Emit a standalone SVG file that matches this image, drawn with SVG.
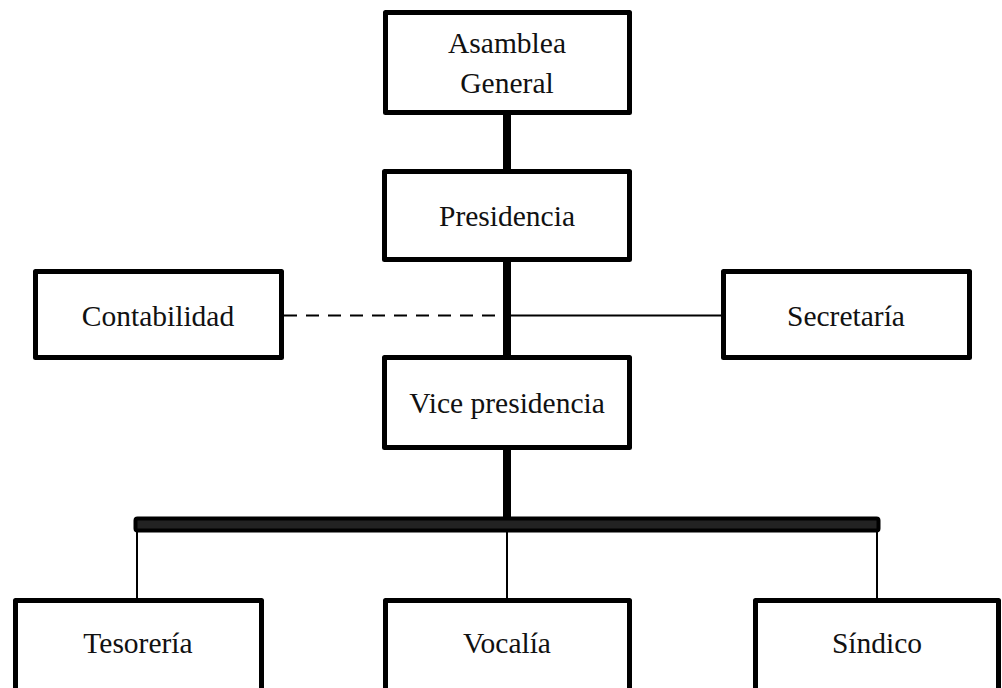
<svg xmlns="http://www.w3.org/2000/svg" width="1002" height="688" viewBox="0 0 1002 688">
  <style>
    .box { fill: #ffffff; stroke: #000000; stroke-width: 5; stroke-linejoin: round; }
    .lbl { font-family: "Liberation Serif", "Times New Roman", serif; font-size: 29.5px; fill: #111111; text-anchor: middle; }
    .trunk { stroke: #000000; stroke-width: 8; fill: none; }
    .thin { stroke: #000000; stroke-width: 2; fill: none; }
    .dash { stroke: #000000; stroke-width: 2; fill: none; stroke-dasharray: 13 9; }
  </style>
  <rect width="1002" height="688" fill="#ffffff"/>

  <!-- connectors -->
  <g id="connectors">
    <line class="trunk" x1="507" y1="113" x2="507" y2="172"/>
    <line class="trunk" x1="507" y1="259" x2="507" y2="358"/>
    <line class="trunk" x1="507" y1="447" x2="507" y2="520"/>
    <line class="dash" x1="284" y1="315.5" x2="503" y2="315.5"/>
    <line class="thin" x1="511" y1="315.5" x2="721" y2="315.5"/>
    <rect x="135.5" y="518.5" width="743" height="12" rx="2" fill="#222222" stroke="#000000" stroke-width="4"/>
    <line class="thin" x1="137" y1="531" x2="137" y2="598"/>
    <line class="thin" x1="507" y1="531" x2="507" y2="598"/>
    <line class="thin" x1="877" y1="531" x2="877" y2="598"/>
  </g>

  <g id="asamblea">
    <rect class="box" x="385.5" y="12.5" width="244" height="100"/>
    <text class="lbl" x="507" y="53">Asamblea</text>
    <text class="lbl" x="507" y="93">General</text>
  </g>

  <g id="presidencia">
    <rect class="box" x="384.5" y="171.5" width="245" height="88"/>
    <text class="lbl" x="507" y="226">Presidencia</text>
  </g>

  <g id="contabilidad">
    <rect class="box" x="35.5" y="271.5" width="246" height="86"/>
    <text class="lbl" x="158" y="326">Contabilidad</text>
  </g>

  <g id="secretaria">
    <rect class="box" x="723.5" y="271.5" width="246" height="86"/>
    <text class="lbl" x="846" y="326">Secretaría</text>
  </g>

  <g id="vicepresidencia">
    <rect class="box" x="384.5" y="357.5" width="245" height="90"/>
    <text class="lbl" x="507" y="413">Vice presidencia</text>
  </g>

  <g id="tesoreria">
    <rect class="box" x="15.5" y="600.5" width="246" height="100"/>
    <text class="lbl" x="138" y="653">Tesorería</text>
  </g>

  <g id="vocalia">
    <rect class="box" x="385.5" y="600.5" width="244" height="100"/>
    <text class="lbl" x="507" y="653">Vocalía</text>
  </g>

  <g id="sindico">
    <rect class="box" x="755.5" y="600.5" width="243" height="100"/>
    <text class="lbl" x="877" y="653">Síndico</text>
  </g>
</svg>
